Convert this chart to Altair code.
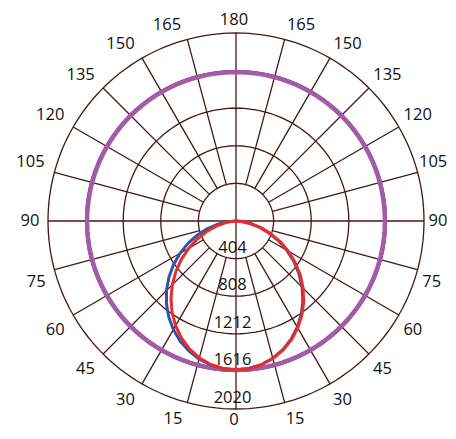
import altair as alt
import pandas as pd
import numpy as np

# ---- data ----
angles = [0, 5, 10, 15, 20, 25, 30, 35, 40, 45, 50, 55, 60, 65, 70, 75, 80, 85, 90]
red_right = [1600, 1592, 1569, 1530, 1476, 1408, 1327, 1235, 1132, 1020, 901, 777, 650, 523, 396, 276, 165, 67, 0]
red_left = [1600, 1591, 1565, 1522, 1462, 1387, 1299, 1198, 1087, 968, 843, 715, 586, 459, 338, 225, 126, 47, 0]
blue_right = [1600, 1591, 1567, 1526, 1470, 1400, 1317, 1223, 1118, 1004, 884, 759, 631, 504, 380, 262, 155, 62, 0]
blue_left = [1600, 1593, 1571, 1535, 1485, 1422, 1346, 1260, 1162, 1056, 941, 821, 696, 569, 442, 316, 196, 86, 0]
purple_value = 1600
ring_values = [404, 808, 1212, 1616, 2020]
spoke_angles = list(range(0, 360, 15))
label_angles = list(range(0, 360, 15))
label_texts = [str(a if a <= 180 else 360 - a) for a in label_angles]

GRID = "#4a1414"
FONT = "Open Sans"
FS = 16.5
K = 2020 / 188  # candela per pixel of the reference drawing

# ---- tables built from the arrays ----
def curve(left, right, name):
    rows = []
    i = 0
    for a, v in reversed(list(zip(angles, left))):
        rows.append({"a": -a, "r": v, "i": i, "s": name}); i += 1
    for a, v in zip(angles, right):
        rows.append({"a": a, "r": v, "i": i, "s": name}); i += 1
    return pd.DataFrame(rows)

red_df = curve(red_left, red_right, "red")
blue_df = curve(blue_left, blue_right, "blue")

sweep = np.arange(0, 361, 2)
rings_df = pd.DataFrame([{"ring": r, "a": float(t), "r": r} for r in ring_values for t in sweep])
purple_df = pd.DataFrame([{"a": float(t), "r": purple_value} for t in sweep])
spokes_df = pd.DataFrame([
    {"a": a, "r0": 0 if a % 90 == 0 else ring_values[0], "r1": ring_values[-1]}
    for a in spoke_angles
])
labels_df = pd.DataFrame({"a": label_angles, "t": label_texts})
ringlab_df = pd.DataFrame({"r": ring_values, "t": [str(v) for v in ring_values]})

W, H = 440, 423
CXP, CYP = 228, 213  # centre inside the plot area, pixels
xs = alt.Scale(domain=[-CXP * K, (W - CXP) * K], nice=False, zero=False)
ys = alt.Scale(domain=[-(H - CYP) * K, CYP * K], nice=False, zero=False)

def xy(ch):
    return ch.transform_calculate(
        px="datum.r*sin(datum.a*PI/180)",
        py="-datum.r*cos(datum.a*PI/180)",
    )

X = alt.X("px:Q", scale=xs, axis=None)
Y = alt.Y("py:Q", scale=ys, axis=None)

rings = xy(alt.Chart(rings_df).mark_line(color=GRID, strokeWidth=1.3)).encode(
    x=X, y=Y, detail="ring:N", order="a:Q")

spokes = alt.Chart(spokes_df).mark_rule(color=GRID, strokeWidth=1.3).transform_calculate(
    x0="datum.r0*sin(datum.a*PI/180)", y0="-datum.r0*cos(datum.a*PI/180)",
    x1="datum.r1*sin(datum.a*PI/180)", y1="-datum.r1*cos(datum.a*PI/180)",
).encode(
    x=alt.X("x0:Q", scale=xs, axis=None), y=alt.Y("y0:Q", scale=ys, axis=None),
    x2="x1:Q", y2="y1:Q")

purple = xy(alt.Chart(purple_df).mark_line(color="#a35ba9", strokeWidth=4.5)).encode(
    x=X, y=Y, order="a:Q")

blue = xy(alt.Chart(blue_df).mark_line(color="#2f56a6", strokeWidth=3, strokeJoin="round")).encode(
    x=X, y=Y, order="i:Q")
red = xy(alt.Chart(red_df).mark_line(color="#ee2b2b", strokeWidth=3, strokeJoin="round")).encode(
    x=X, y=Y, order="i:Q")

# angle labels: placed a little outside the outer ring, kept inside the drawing
right_room = W - CXP + 2  # pixels from centre to right edge, plus the -2 dx nudge
labels = alt.Chart(labels_df).mark_text(font=FONT, fontSize=FS, color="#111111",
                                        align="center", baseline="middle", dx=-2).transform_calculate(
    f="datum.a <= 180 ? datum.a : 360 - datum.a",
    s="datum.a <= 180 ? 1 : -1",
    hw=f"length(datum.t) * 0.29 * {FS} + 0.5",
).transform_calculate(
    g="datum.f > 0 && datum.f < 90 ? datum.f + 2.5*cos(2*datum.f*PI/180) : "
      "(datum.f > 90 && datum.f < 180 ? datum.f + 1.2 - (datum.f - 105)*0.085 : datum.f)",
    rp="datum.f < 1 ? 199 : (datum.f > 179 ? 201 : (datum.f <= 90 ? 204 + 6*abs(sin(2*datum.f*PI/180)) : "
       "202 + 10*sin(min(90, (180 - datum.f)*2)*PI/180)))",
).transform_calculate(
    px=f"min(datum.s * datum.rp * {K} * sin(datum.g*PI/180), ({right_room} - datum.hw) * {K})",
    py=f"-datum.rp * {K} * cos(datum.g*PI/180)",
).encode(x=X, y=Y, text="t:N")

ringlabels = alt.Chart(ringlab_df).mark_text(font=FONT, fontSize=FS, color="#111111",
                                             align="center", baseline="bottom", dx=-3.5, dy=-3).transform_calculate(
    px="0", py="-datum.r"
).encode(x=X, y=Y, text="t:N")

chart = alt.layer(rings, spokes, purple, blue, red, labels, ringlabels).properties(
    width=W, height=H, padding=0, autosize="none"
).configure_view(stroke=None)

chart.save("out.html", embed_options={"renderer": "svg", "actions": False})
